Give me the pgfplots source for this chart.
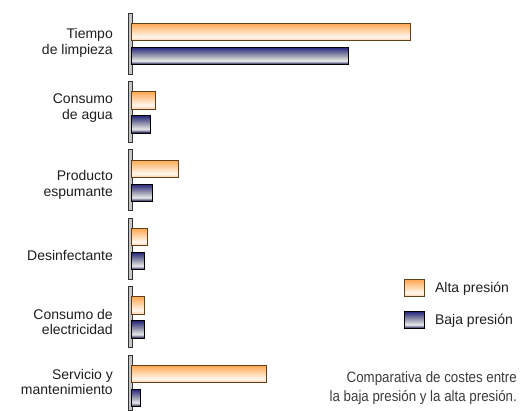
\documentclass[border=0pt]{standalone}
\usepackage{pgfplots}
\usepackage{pgfplotstable}
\usepackage{graphicx}
\pgfplotsset{compat=1.18}
\usepackage{fontspec}
\setmainfont{Liberation Sans}
\definecolor{orEdge}{HTML}{5E3F1A}
\definecolor{capgray}{HTML}{3C3C3C}
\definecolor{lblgray}{HTML}{1E1E1E}
\pgfdeclareverticalshading{orsh}{100bp}{color(0bp)=(orange!40!white); color(25bp)=(orange!40!white); color(36bp)=(orange!6!white); color(75bp)=(orange!68!white); color(100bp)=(orange!68!white)}
\pgfdeclareverticalshading{nvsh}{100bp}{color(0bp)=(black!75!blue!60!black); color(25bp)=(black!75!blue!60!black); color(30bp)=(blue!25!black!60!white); color(36bp)=(blue!6!black!8!white); color(52bp)=(blue!20!black!40!white); color(75bp)=(blue!40!black!85!white); color(100bp)=(blue!40!black!85!white)}
\tikzset{
  altaStyle/.style={draw=orEdge, line width=0.9pt, shading=orsh},
  bajaStyle/.style={draw=black, line width=0.9pt, shading=nvsh},
  post/.style={draw=black!80, line width=0.8pt, fill=black!22},
}
\pgfplotstableread{
idx alta baja
0 279 217
1 24.5 19.5
2 47.5 21.5
3 16.5 13.5
4 13 13
5 135 9.5
}\datatable
\begin{document}
\begin{tikzpicture}
\begin{axis}[
  scale only axis, width=530pt, height=410pt,
  xmin=-131, xmax=399, ymin=-0.643, ymax=5.351, y dir=reverse,
  enlargelimits=false,
  axis lines=none, clip=false,
  xbar, bar width=17.5pt,
  legend style={at={(404/530,1-279/410)}, anchor=north west, draw=none, fill=none,
    inner sep=0pt, row sep=14pt, font=\fontsize{14}{16}\selectfont, text=lblgray,
    /tikz/every odd column/.append style={column sep=8pt}},
  legend cell align=left,
]
\draw[post] (axis cs:-3,{-31/68.4}) rectangle (axis cs:1,{30/68.4});
\draw[post] (axis cs:-3,{1-31/68.4}) rectangle (axis cs:1,{1+30/68.4});
\draw[post] (axis cs:-3,{2-31/68.4}) rectangle (axis cs:1,{2+30/68.4});
\draw[post] (axis cs:-3,{3-31/68.4}) rectangle (axis cs:1,{3+30/68.4});
\draw[post] (axis cs:-3,{4-31/68.4}) rectangle (axis cs:1,{4+30/68.4});
\draw[post] (axis cs:-3,{5-31/68.4}) rectangle (axis cs:1,5.351);
\pgfplotsinvokeforeach{0,...,5}{
  \addplot[altaStyle, bar shift=12pt, forget plot]
    table[x=alta, y=idx, restrict y to domain=#1:#1] {\datatable};
  \addplot[bajaStyle, bar shift=-12pt, forget plot]
    table[x=baja, y=idx, restrict y to domain=#1:#1] {\datatable};
}
\addlegendimage{legend image code/.code={\draw[altaStyle] (0pt,-8.5pt) rectangle (20pt,8.5pt);}}
\addlegendentry{Alta presión}
\addlegendimage{legend image code/.code={\draw[bajaStyle] (0pt,-8.5pt) rectangle (20pt,8.5pt);}}
\addlegendentry{Baja presión}
\begin{scope}[every node/.style={anchor=east, align=right, font=\fontsize{14}{15.5}\selectfont, inner sep=0pt, text=lblgray}]
\node at (rel axis cs:113/530,1-43/410) {Tiempo\\de limpieza};
\node at (rel axis cs:113/530,1-108/410) {Consumo\\de agua};
\node at (rel axis cs:113/530,1-185/410) {Producto\\espumante};
\node at (rel axis cs:113/530,1-255/410) {Desinfectante};
\node at (rel axis cs:113/530,1-322/410) {Consumo de\\electricidad};
\node at (rel axis cs:113/530,1-382/410) {Servicio y\\mantenimiento};
\end{scope}
\node[anchor=north east, align=right, inner sep=0pt, text=capgray,
  font=\fontsize{15}{19.5}\selectfont] at (rel axis cs:517/530,1-371/410)
  {\scalebox{0.887}[1]{Comparativa de costes entre}\\\scalebox{0.887}[1]{la baja presión y la alta presión.}};
\end{axis}
\pgfresetboundingbox
\path (current axis.south west) rectangle (current axis.north east);
\end{tikzpicture}
\end{document}
